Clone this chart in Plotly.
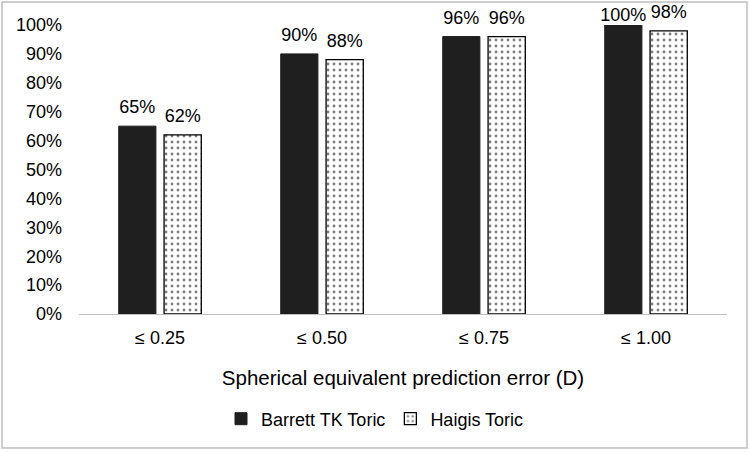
import plotly.graph_objects as go

categories = ["≤ 0.25", "≤ 0.50", "≤ 0.75", "≤ 1.00"]
barrett = [65, 90, 96, 100]
haigis = [62, 88, 96, 98]
series_names = ["Barrett TK Toric", "Haigis Toric"]
y_ticks = [0, 10, 20, 30, 40, 50, 60, 70, 80, 90, 100]
y_tick_labels = [f"{v}%" for v in y_ticks]

W, H = 750, 452
L, R, T, B = 79, 727, 25, 314  # plot area in pixels
BARGAP = 0.44

def px_x(x):
    return (x - L) / (R - L)

def px_y(y):
    return (B - y) / (B - T)

font = "Liberation Sans, Arial, sans-serif"

fig = go.Figure()
fig.add_trace(go.Bar(
    x=categories, y=barrett, name=series_names[0],
    offsetgroup="a", alignmentgroup="g",
    marker=dict(color="#1f1f1f", line=dict(color="#1f1f1f", width=1)),
))
fig.add_trace(go.Bar(
    x=categories, y=haigis, name=series_names[1],
    offsetgroup="b", alignmentgroup="g",
    marker=dict(color="white", line=dict(color="#000", width=1.3),
                pattern=dict(shape=".", fgcolor="#000", bgcolor="white",
                             size=6, solidity=0.18)),
))
# data labels, grouped like the bars (labels at the top edge are kept inside the chart)
for vals, grp in [(barrett, "a"), (haigis, "b")]:
    fig.add_trace(go.Scatter(
        x=categories, y=vals, mode="markers+text",
        offsetgroup=grp, alignmentgroup="g",
        marker=dict(size=[0 if v >= 99 else 12 for v in vals],
                    color="rgba(0,0,0,0)", opacity=0,
                    line=dict(width=0, color="rgba(0,0,0,0)")),
        text=[f"{v}%" for v in vals], textposition="top center",
        textfont=dict(size=18, color="#000"), cliponaxis=False,
        showlegend=False, hoverinfo="skip",
    ))

fig.update_layout(
    width=W, height=H,
    margin=dict(l=L, r=W - R, t=T, b=H - B, autoexpand=False),
    paper_bgcolor="white", plot_bgcolor="white",
    font=dict(family=font, size=18, color="#000"),
    barmode="group", bargap=BARGAP, bargroupgap=0.18,
    scattermode="group", scattergap=BARGAP,
    showlegend=True,
    legend=dict(orientation="h", xref="container", x=0.5, xanchor="center",
                y=px_y(419), yanchor="middle",
                font=dict(size=18), traceorder="normal",
                itemwidth=30),
    xaxis=dict(
        showline=True, linecolor="#bfbfbf", linewidth=1,
        ticks="", tickfont=dict(size=18), ticklabelstandoff=7,
        title=dict(text="Spherical equivalent prediction error (D)",
                   font=dict(size=20.5), standoff=24),
    ),
    yaxis=dict(
        range=[0, 100], tickvals=y_ticks, ticktext=y_tick_labels,
        showgrid=False, zeroline=False, showline=False, ticks="",
        tickfont=dict(size=18), ticklabelstandoff=16,
    ),
    shapes=[dict(type="rect", xref="paper", yref="paper",
                 x0=px_x(2), x1=px_x(747), y0=px_y(448), y1=px_y(2),
                 line=dict(color="#bfbfbf", width=1.5), layer="below")],
)

fig.write_html("out.html")
